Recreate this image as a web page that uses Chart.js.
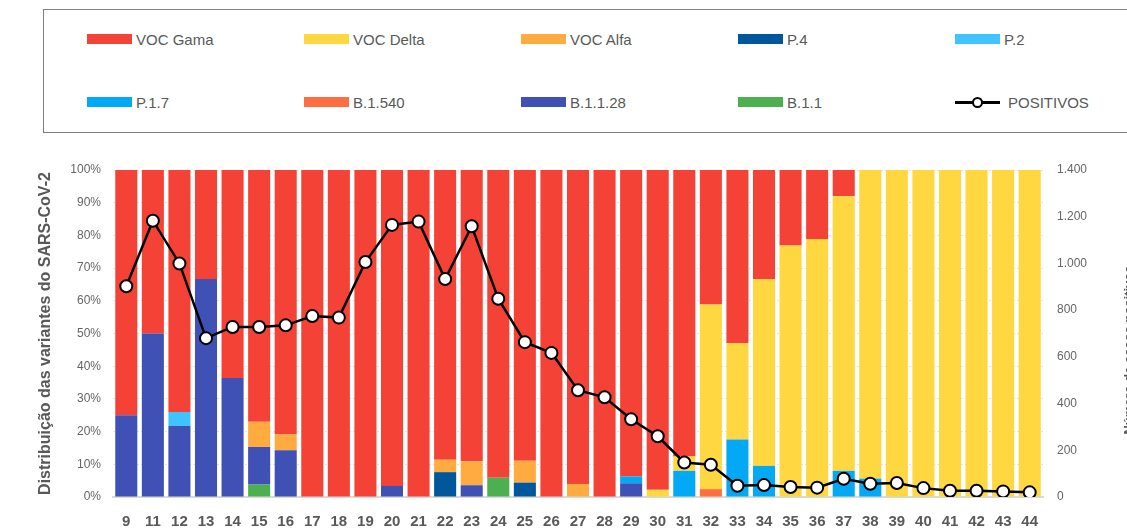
<!DOCTYPE html>
<html>
<head>
<meta charset="utf-8">
<script src="https://cdn.jsdelivr.net/npm/chart.js@4"></script>
<style>
  html, body { margin: 0; padding: 0; background: #fff; overflow: hidden; }
  body { width: 1127px; height: 530px; position: relative; font-family: "Liberation Sans", Arial, sans-serif; }
  #legend { position: absolute; left: 43px; top: 9px; width: 1110px; height: 124px; border: 1.5px solid #7f7f7f; box-sizing: border-box; }
  .item { position: absolute; height: 20px; display: flex; align-items: center; color: #595959; font-size: 15px; white-space: nowrap; }
  .swatch { width: 45px; height: 10px; margin-right: 4px; }
  .lineicon { width: 45px; height: 14px; margin-right: 8px; position: relative; }
  .lineicon::before { content: ''; position: absolute; left: 0; right: 0; top: 6px; height: 2.5px; background: #000; }
  .lineicon::after { content: ''; position: absolute; left: 17px; top: 2px; width: 7px; height: 7px; border: 2px solid #000; border-radius: 50%; background: #fff; }
  #wrap { position: absolute; left: 0; top: 140px; width: 1127px; height: 390px; }
</style>
</head>
<body>
<div id="legend"></div>
<div id="wrap"><canvas id="chart"></canvas></div>
<script>
// semanas epidemiologicas
const weeks = ['9','11','12','13','14','15','16','17','18','19','20','21','22','23','24','25','26','27','28','29','30','31','32','33','34','35','36','37','38','39','40','41','42','43','44'];

// distribuicao (%) de cada variante por semana
const b11     = [0,0,0,0,0,3.8,0,0,0,0,0,0,0,0,5.9,0,0,0,0,0,0,0,0,0,0,0,0,0,0,0,0,0,0,0,0];
const b1128   = [25,50,21.7,66.7,36.4,11.5,14.3,0,0,0,3.4,0,0,3.6,0,0,0,0,0,4.2,0,0,0,0,0,0,0,0,0,0,0,0,0,0,0];
const b1540   = [0,0,0,0,0,0,0,0,0,0,0,0,0,0,0,0,0,0,0,0,0,0,2.4,0,0,0,0,0,0,0,0,0,0,0,0];
const p17     = [0,0,0,0,0,0,0,0,0,0,0,0,0,0,0,0,0,0,0,2.1,0,8.0,0,17.6,9.5,0,0,8.0,5.6,0,0,0,0,0,0];
const p2      = [0,0,4.3,0,0,0,0,0,0,0,0,0,0,0,0,0,0,0,0,0,0,0,0,0,0,0,0,0,0,0,0,0,0,0,0];
const p4      = [0,0,0,0,0,0,0,0,0,0,0,0,7.6,0,0,4.4,0,0,0,0,0,0,0,0,0,0,0,0,0,0,0,0,0,0,0];
const vocAlfa = [0,0,0,0,0,7.7,4.8,0,0,0,0,0,3.8,7.3,0,6.7,0,4.0,0,0,0,0,0,0,0,0,0,0,0,0,0,0,0,0,0];
const vocDelta= [0,0,0,0,0,0,0,0,0,0,0,0,0,0,0,0,0,0,0,0,2.2,4.4,56.5,29.4,57.1,76.9,78.9,84.0,94.4,100,100,100,100,100,100];
const vocGama = [75,50,74.0,33.3,63.6,77.0,80.9,100,100,100,96.6,100,88.6,89.1,94.1,88.9,100,96.0,100,93.7,97.8,87.6,41.1,53.0,33.4,23.1,21.1,8.0,0,0,0,0,0,0,0];

// numero de casos positivos
const positivos = [902,1183,1000,680,728,728,735,775,768,1006,1165,1179,933,1159,849,663,617,457,427,333,260,148,138,48,51,43,40,78,57,60,38,27,27,24,20];

// empilhamento de baixo para cima
const variants = [
    { label: 'B.1.1',     data: b11,      color: '#4CAF50' },
    { label: 'B.1.1.28',  data: b1128,    color: '#3F51B5' },
    { label: 'B.1.540',   data: b1540,    color: '#FF6E40' },
    { label: 'P.1.7',     data: p17,      color: '#03A9F4' },
    { label: 'P.2',       data: p2,       color: '#40C4FF' },
    { label: 'P.4',       data: p4,       color: '#01579B' },
    { label: 'VOC Alfa',  data: vocAlfa,  color: '#FFAB40' },
    { label: 'VOC Delta', data: vocDelta, color: '#FFD740' },
    { label: 'VOC Gama',  data: vocGama,  color: '#F44336' }
];

const barSets = variants.map(v => ({
    type: 'bar',
    label: v.label,
    data: v.data,
    backgroundColor: v.color,
    yAxisID: 'y',
    stack: 'v',
    order: 1,
    barPercentage: 0.83,
    categoryPercentage: 1.0
}));

const lineSet = {
    type: 'line',
    label: 'POSITIVOS',
    data: positivos,
    yAxisID: 'y1',
    borderColor: '#000',
    borderWidth: 2.5,
    pointRadius: 6,
    pointBackgroundColor: '#fff',
    pointBorderColor: '#000',
    pointBorderWidth: 2,
    tension: 0,
    order: 0
};

// Legend (HTML), same order as the original: top of stack first
function buildLegend() {
    const legend = document.getElementById('legend');
    const items = variants.slice().reverse().map(v => ({ label: v.label, color: v.color }));
    items.push({ label: 'POSITIVOS', line: true });
    items.forEach((it, i) => {
        const col = i % 5, row = Math.floor(i / 5);
        const el = document.createElement('div');
        el.className = 'item';
        el.style.left = (87 - 44 + col * 217) + 'px';
        el.style.top = (19 + row * 63) + 'px';
        const mark = document.createElement('span');
        if (it.line) {
            mark.className = 'lineicon';
        } else {
            mark.className = 'swatch';
            mark.style.background = it.color;
        }
        el.appendChild(mark);
        const txt = document.createElement('span');
        txt.textContent = it.label;
        el.appendChild(txt);
        legend.appendChild(el);
    });
}

// right axis title, reads bottom to top like the left one
const rightTitle = {
    id: 'rightTitle',
    afterDraw(chart) {
        const c = chart.ctx;
        c.save();
        c.translate(1129, 350 - 140);
        c.rotate(-Math.PI / 2);
        c.font = 'bold 13px "Liberation Sans", Arial, sans-serif';
        c.fillStyle = '#595959';
        c.textAlign = 'center';
        c.textBaseline = 'middle';
        c.fillText('Número de casos positivos', 0, 0);
        c.restore();
    }
};

window.onload = function() {
    buildLegend();
    const ctx = document.getElementById('chart').getContext('2d');
    new Chart(ctx, {
        data: {
            labels: weeks,
            datasets: [lineSet].concat(barSets)
        },
        plugins: [rightTitle],
        options: {
            responsive: true,
            maintainAspectRatio: false,
            animation: false,
            layout: { padding: { left: 36, right: 0, top: 30, bottom: 0 } },
            plugins: {
                legend: { display: false },
                tooltip: { enabled: false }
            },
            scales: {
                x: {
                    stacked: true,
                    grid: { display: false },
                    border: { color: '#d9d9d9', width: 2 },
                    ticks: {
                        color: '#595959',
                        font: { family: '"Liberation Sans", Arial, sans-serif', size: 15, weight: 'bold' },
                        padding: 8,
                        maxRotation: 0,
                        autoSkip: false
                    },
                    afterFit: s => { s.height = 33; }
                },
                y: {
                    stacked: true,
                    position: 'left',
                    min: 0,
                    max: 100,
                    ticks: {
                        stepSize: 10,
                        color: '#666',
                        font: { family: '"Liberation Sans", Arial, sans-serif', size: 12 },
                        padding: 12,
                        callback: v => v + '%'
                    },
                    grid: { color: '#e3e3e3', drawTicks: false },
                    border: { display: false, dash: [2, 2] },
                    title: {
                        display: true,
                        text: 'Distribuição das variantes do SARS-CoV-2',
                        color: '#595959',
                        font: { family: '"Liberation Sans", Arial, sans-serif', size: 16, weight: 'bold' },
                        padding: 0
                    },
                    afterFit: s => { s.width = 77; }
                },
                y1: {
                    position: 'right',
                    min: 0,
                    max: 1400,
                    ticks: {
                        stepSize: 200,
                        color: '#666',
                        font: { family: '"Liberation Sans", Arial, sans-serif', size: 12 },
                        padding: 14,
                        callback: v => v.toLocaleString('de-DE')
                    },
                    grid: { display: false, drawTicks: false },
                    border: { display: false },
                    afterFit: s => { s.width = 84; }
                }
            }
        }
    });
};
</script>
</body>
</html>
